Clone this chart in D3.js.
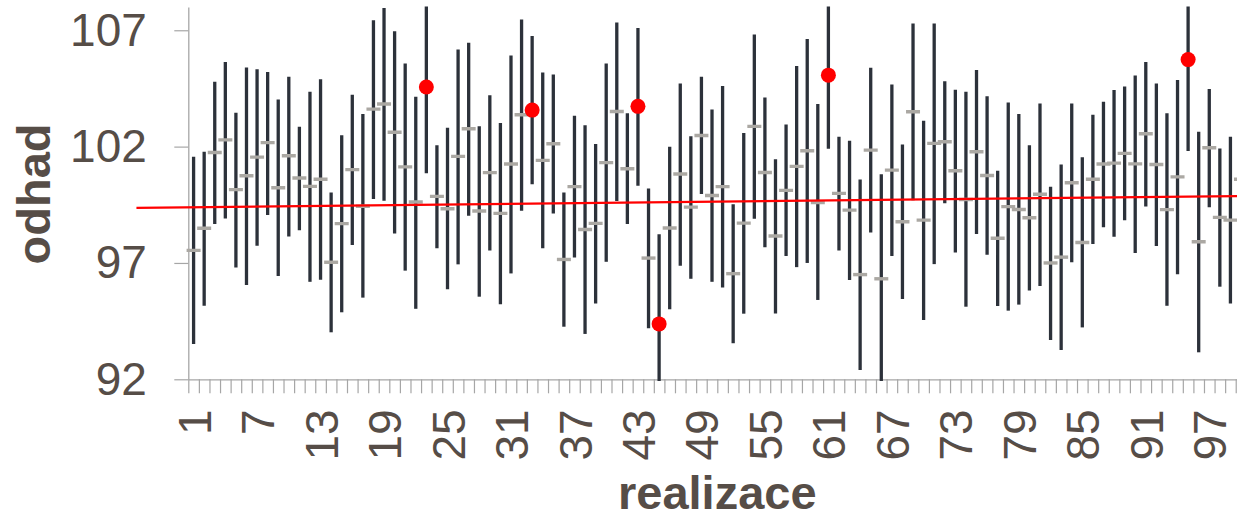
<!DOCTYPE html>
<html><head><meta charset="utf-8">
<script src="https://cdn.jsdelivr.net/npm/d3@7"></script>
<style>html,body{margin:0;padding:0;background:#fff;overflow:hidden}</style>
</head><body>
<svg id="chart" width="1237" height="519"></svg>
<script>
// ---- data ----
const categories = d3.range(1, 101); // realizace 1..100
const xTickLabels = [1, 7, 13, 19, 25, 31, 37, 43, 49, 55, 61, 67, 73, 79, 85, 91, 97];
const yTickValues = [92, 97, 102, 107];
const high = [101.56,101.78,104.79,105.64,103.45,105.40,105.33,105.21,104.03,105.00,
  102.85,104.36,104.90,100.03,102.49,104.23,103.40,107.43,107.96,106.96,
  105.57,104.14,108.26,102.06,102.81,106.17,106.46,102.88,104.21,103.02,
  105.92,107.46,106.75,105.19,105.10,100.03,103.33,102.92,102.11,105.57,
  107.33,103.43,107.10,100.20,98.23,101.99,104.71,102.45,105.00,103.60,
  104.61,99.52,102.59,106.82,104.11,101.46,102.95,105.46,106.62,103.83,
  108.24,102.42,102.25,100.59,105.39,100.81,104.67,102.09,107.29,103.11,
  107.29,104.81,104.44,104.36,105.29,104.16,100.96,103.90,103.40,102.06,
  103.85,100.28,101.23,103.85,101.54,103.37,103.93,104.43,104.58,105.06,
  105.64,104.71,103.43,104.86,109.68,102.64,104.48,101.92,102.42,103.70];
const low = [93.52,95.16,98.67,98.91,96.81,96.05,97.74,99.06,96.44,98.14,
  98.41,96.19,96.28,94.02,94.88,97.77,95.51,99.75,99.67,98.27,
  96.67,95.03,100.86,97.63,95.87,96.94,99.03,95.55,97.53,95.22,
  96.55,99.24,100.38,97.63,99.13,94.26,97.23,93.95,95.26,97.05,
  99.66,98.67,100.32,94.19,90.52,95.01,96.88,96.32,99.96,96.19,
  95.94,93.55,94.82,98.90,97.67,94.83,97.30,96.82,97.00,95.41,
  101.91,97.53,96.27,92.40,98.31,91.84,97.30,95.45,99.70,94.55,
  96.95,99.57,97.45,95.12,98.24,97.35,95.15,94.95,95.21,95.82,
  96.01,93.69,93.26,97.03,94.23,97.81,98.53,98.13,98.83,97.43,
  99.43,97.73,95.16,96.52,101.81,93.16,99.39,95.98,95.26,97.50];
const estimate = [97.54,98.49,101.75,102.29,100.15,100.75,101.55,102.17,100.23,101.61,
  100.65,100.29,100.60,97.03,98.69,101.01,99.44,103.61,103.83,102.62,
  101.13,99.62,104.56,99.86,99.33,101.58,102.77,99.23,100.88,99.13,
  101.25,103.37,103.57,101.41,102.12,97.15,100.28,98.44,98.70,101.31,
  103.51,101.05,103.73,97.21,94.38,98.50,100.82,99.40,102.48,99.90,
  100.28,96.54,98.71,102.87,100.89,98.16,100.12,101.15,101.82,99.60,
  105.07,99.99,99.27,96.50,101.85,96.32,100.99,98.77,103.50,98.84,
  102.14,102.21,100.96,99.73,101.78,100.76,98.06,99.42,99.30,98.94,
  99.95,97.00,97.25,100.45,97.88,100.60,101.25,101.29,101.71,101.26,
  102.55,101.23,99.29,100.70,105.74,97.91,101.95,98.96,98.84,100.60];
const missed = [23, 33, 43, 45, 61, 95]; // intervals not covering the true value
const trueLineX = [-4.4, 100.5];
const trueLineY = [99.37, 99.88];

// ---- layout ----
const svg = d3.select("#chart");
const x0 = 188.3, yTop = 7, yBot = 379.3, step = 10.58;
const x = d3.scaleLinear().domain([0.5, 100.5]).range([x0, x0 + 100 * step]);
const y = d3.scaleLinear().domain([92, 108]).range([yBot, yTop]);
const FONT = "'Liberation Sans', Arial, Helvetica, sans-serif";
const TXT = "#564d47", AX = "#a6a6a6";

svg.append("defs").append("clipPath").attr("id", "plot")
  .append("rect").attr("x", x0 - 10).attr("y", 6.5).attr("width", 1200).attr("height", 381 - 6.5);

const rows = categories.map((c, i) => ({c, lo: low[i], hi: high[i], est: estimate[i], miss: missed.includes(c)}));

// axes
const yAxis = svg.append("g").attr("transform", `translate(${x0},0)`)
  .call(d3.axisLeft(y).tickValues(yTickValues).tickSize(14).tickSizeOuter(0).tickPadding(27.5));
const xBoundaries = d3.range(0, 101).map(i => i + 0.5);
const xAxis = svg.append("g").attr("transform", `translate(0,${yBot})`)
  .call(d3.axisBottom(x).tickValues(xBoundaries).tickSize(14).tickSizeOuter(0).tickFormat(""));
const xLab = svg.append("g").attr("transform", `translate(0,${yBot})`)
  .call(d3.axisBottom(x).tickValues(xTickLabels).tickSize(0).tickSizeOuter(0).tickFormat(d => String(d)));
xLab.select(".domain").remove();
xLab.selectAll("text").attr("transform", "rotate(-90)").attr("text-anchor", "end")
  .attr("x", -30).attr("y", 0).attr("dy", "0.36em");

[yAxis, xAxis, xLab].forEach(g => {
  g.selectAll("path.domain").attr("stroke", AX).attr("stroke-width", 1.3);
  g.selectAll(".tick line").attr("stroke", AX).attr("stroke-width", 1.2);
  g.selectAll("text").attr("fill", TXT).style("font-family", FONT).style("font-size", "46px");
});

// marks
const plot = svg.append("g").attr("clip-path", "url(#plot)");
plot.selectAll("line.ci").data(rows).join("line").attr("class", "ci")
  .attr("x1", d => x(d.c)).attr("x2", d => x(d.c))
  .attr("y1", d => y(d.hi)).attr("y2", d => y(d.lo))
  .attr("stroke", "#2c313a").attr("stroke-width", 3.3);

svg.append("line")
  .attr("x1", x(trueLineX[0])).attr("x2", x(trueLineX[1]))
  .attr("y1", y(trueLineY[0])).attr("y2", y(trueLineY[1]))
  .attr("stroke", "#ff0000").attr("stroke-width", 2.3);

plot.selectAll("line.est").data(rows.filter(d => !d.miss)).join("line").attr("class", "est")
  .attr("x1", d => x(d.c) - 7).attr("x2", d => x(d.c) + 7)
  .attr("y1", d => y(d.est)).attr("y2", d => y(d.est))
  .attr("stroke", "#aba8a3").attr("stroke-width", 3.4);

plot.selectAll("circle.miss").data(rows.filter(d => d.miss)).join("circle").attr("class", "miss")
  .attr("cx", d => x(d.c)).attr("cy", d => y(d.est)).attr("r", 7.5)
  .attr("fill", "#ff0000");

// titles
svg.append("text").attr("transform", "translate(50,194) rotate(-90)")
  .attr("text-anchor", "middle").attr("fill", TXT)
  .style("font-family", FONT).style("font-size", "47px").style("font-weight", "bold").text("odhad");
svg.append("text").attr("x", (x(0.5) + x(100.5)) / 2).attr("y", 509)
  .attr("text-anchor", "middle").attr("fill", TXT)
  .style("font-family", FONT).style("font-size", "47px").style("font-weight", "bold").text("realizace");
</script>
</body></html>
